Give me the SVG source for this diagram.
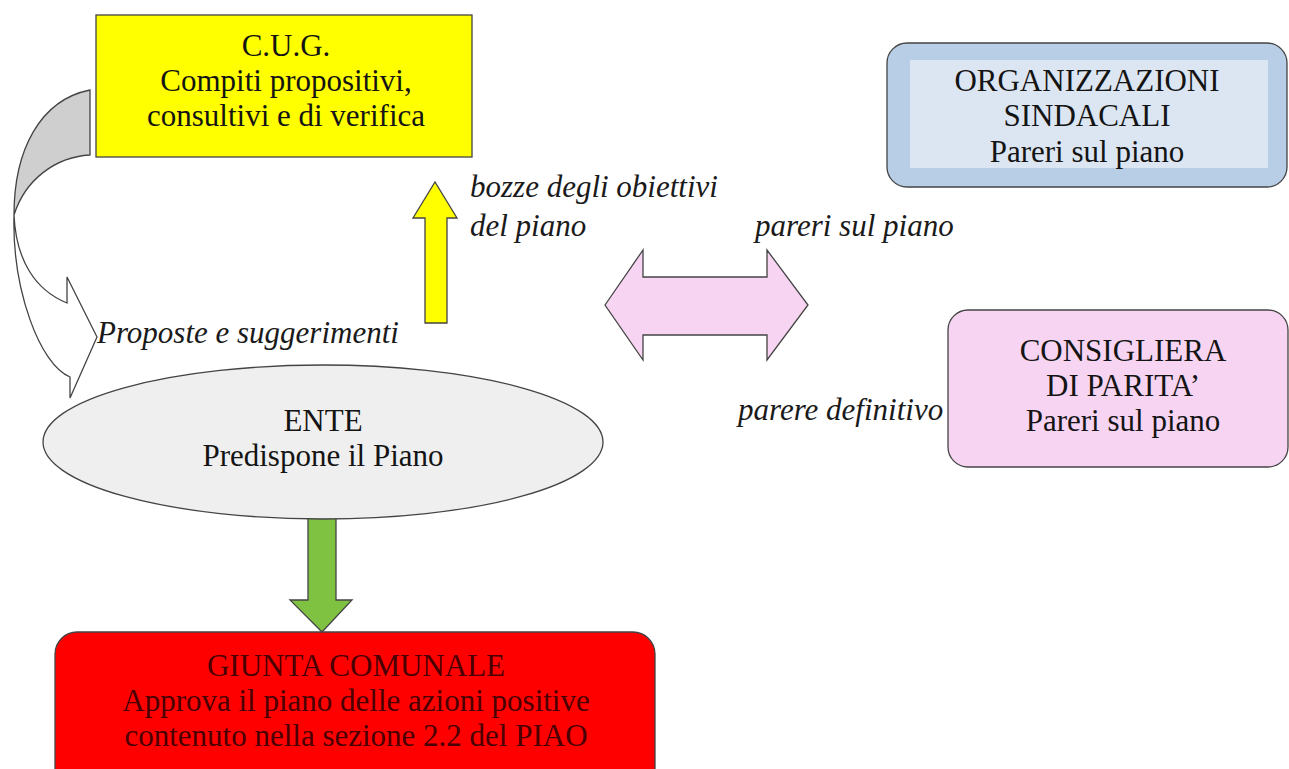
<svg xmlns="http://www.w3.org/2000/svg" width="1289" height="769" viewBox="0 0 1289 769">
<style>
.t{font-family:"Liberation Serif","Times New Roman",serif;font-size:31px;fill:#141414;text-anchor:middle}
.i{font-family:"Liberation Serif","Times New Roman",serif;font-size:31px;font-style:italic;fill:#1a1a1a}
.s{stroke:#444;stroke-width:1.3}
</style>
<rect width="1289" height="769" fill="#fff"/>
<g id="connectors">
<g id="curved-arrow">
<path class="s" d="M90,90 C40,100 14,150 14,215 C25,180 55,157 90,155 Z" fill="#cfcfcf"/>
<path class="s" d="M14,215 C12,290 40,365 70,377 L70,398 L97,337 L67,277 L67,303 C35,290 16,260 14,215 Z" fill="#fff"/>
</g>
<path id="yellow-arrow" class="s" d="M425,323 L425,218 L413,218 L435,182 L457,218 L447,218 L447,323 Z" fill="#ffff00"/>
<path id="pink-arrow" class="s" d="M605,305 L643,250 L643,277 L767,277 L767,250 L808,305 L767,360 L767,335 L643,335 L643,360 Z" fill="#f7d5f2"/>
<path id="green-arrow" class="s" d="M308,515 L336,515 L336,600 L352,600 L322,632 L290,600 L308,600 Z" fill="#7fc241"/>
<text class="i" x="470" y="197">bozze degli obiettivi</text>
<text class="i" x="470" y="236">del piano</text>
<text class="i" x="755" y="236">pareri sul piano</text>
<text class="i" x="97" y="343">Proposte e suggerimenti</text>
<text class="i" x="738" y="420">parere definitivo</text>
</g>
<g id="cug">
<rect x="96" y="15" width="376" height="142" fill="#ffff00" stroke="#444" stroke-width="1.3"/>
<text class="t" x="286" y="56">C.U.G.</text>
<text class="t" x="286" y="91">Compiti propositivi,</text>
<text class="t" x="286" y="126">consultivi e di verifica</text>
</g>
<g id="organizzazioni">
<rect x="887" y="43" width="400" height="144" rx="20" fill="#b8cde6" stroke="#444" stroke-width="1.3"/>
<rect x="910" y="60" width="358" height="108" fill="#dce6f2"/>
<text class="t" x="1087" y="91">ORGANIZZAZIONI</text>
<text class="t" x="1087" y="126">SINDACALI</text>
<text class="t" x="1087" y="162">Pareri sul piano</text>
</g>
<g id="consigliera">
<rect x="948" y="310" width="340" height="157" rx="20" fill="#f7d5f2" stroke="#444" stroke-width="1.3"/>
<text class="t" x="1123" y="361">CONSIGLIERA</text>
<text class="t" x="1123" y="396">DI PARITA’</text>
<text class="t" x="1123" y="431">Pareri sul piano</text>
</g>
<g id="ente">
<ellipse cx="323" cy="442" rx="280" ry="77" fill="#efefef" stroke="#444" stroke-width="1.3"/>
<text class="t" x="323" y="431">ENTE</text>
<text class="t" x="323" y="466">Predispone il Piano</text>
</g>
<g id="giunta">
<rect x="55" y="632" width="600" height="160" rx="22" fill="#ff0000" stroke="#444" stroke-width="1.3"/>
<text class="t" x="356" y="676" style="fill:#4a0000">GIUNTA COMUNALE</text>
<text class="t" x="356" y="711" style="fill:#4a0000">Approva il piano delle azioni positive</text>
<text class="t" x="356" y="746" style="fill:#4a0000">contenuto nella sezione 2.2 del PIAO</text>
</g>
</svg>
